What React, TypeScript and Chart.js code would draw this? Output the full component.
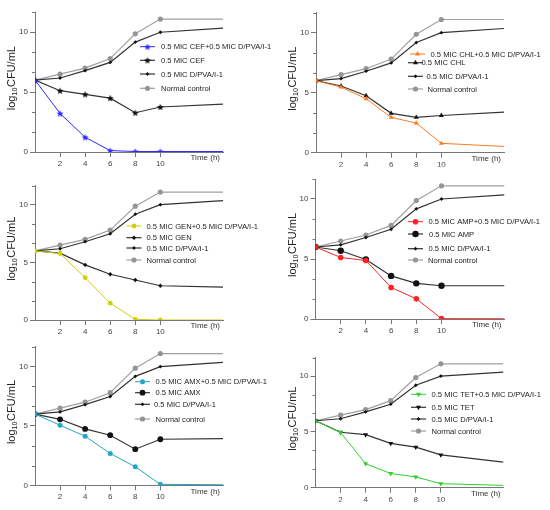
import { useEffect, useRef } from 'react';
import { Chart, registerables } from 'chart.js';
import { drawPoint } from 'chart.js/helpers';

Chart.register(...registerables);

// sampling times (h); the last one is the plateau the curves run out to
const times = [0, 2, 4, 6, 8, 10, 15];

// shared controls (same in every panel)
const normalControl = [6, 6.5, 7.0, 7.8, 9.87, 11.1, 11.1];
const dpvaOnly = [6, 6.18, 6.79, 7.48, 9.18, 10.0, 10.35];

const cefAlone = [6, 5.12, 4.82, 4.5, 3.28, 3.76, 4.0];
const cefCombo = [6, 3.22, 1.23, 0.12, 0.04, 0.04, 0.04];
const chlAlone = [6, 5.56, 4.75, 3.28, 2.94, 3.1, 3.38];
const chlCombo = [6, 5.47, 4.5, 2.94, 2.47, 0.78, 0.52];
const genAlone = [6, 5.8, 4.78, 3.97, 3.47, 2.97, 2.86];
const genCombo = [6, 5.77, 3.67, 1.46, 0.06, 0, 0];
const ampAlone = [6, 5.69, 4.96, 3.59, 2.97, 2.77, 2.77];
const ampCombo = [6, 5.13, 4.87, 2.63, 1.68, 0.03, 0.02];
const amxAlone = [6, 5.56, 4.75, 4.22, 3.04, 3.88, 3.94];
const amxCombo = [6, 5.06, 4.13, 2.68, 1.56, 0.08, 0.05];
const tetAlone = [6, 4.97, 4.76, 3.97, 3.64, 2.94, 2.3];
const tetCombo = [6, 4.94, 2.15, 1.27, 0.97, 0.36, 0.21];

const xTicks = [2, 4, 6, 8, 10];
const yTicks = [0, 5, 10];
const yMax = 35 / 3;

const FONT = 'Arial, "Liberation Sans", sans-serif';
const W = 275;
const H = 170;
const Y_W = 30;
const X_H = 14;

type Marker = { style: string; radius: number; rotation?: number };

interface PanelSpec {
  drug: string;
  alone: number[];
  combo: number[];
  comboColor: string;
  aloneMarker: Marker;
  comboMarker: Marker;
  left: number;
  top: number;
  area: { l: number; r: number; t: number; b: number };
  legend: { y: number; sx: number; tx: number }[];
}

const panels: PanelSpec[] = [
  {
    drug: 'CEF', alone: cefAlone, combo: cefCombo, comboColor: '#2a2aff',
    aloneMarker: { style: 'star5', radius: 3.6 }, comboMarker: { style: 'star5', radius: 3.6 },
    left: 0, top: 0, area: { l: 35, r: 223, t: 12.3, b: 152 },
    legend: [
      { y: 46.7, sx: 140, tx: 161 }, { y: 60.3, sx: 140, tx: 161 },
      { y: 74, sx: 140, tx: 161 }, { y: 88.3, sx: 140, tx: 161 },
    ],
  },
  {
    drug: 'CHL', alone: chlAlone, combo: chlCombo, comboColor: '#ff7a1f',
    aloneMarker: { style: 'triangle', radius: 2.9 }, comboMarker: { style: 'triangle', radius: 2.9 },
    left: 275, top: 0, area: { l: 41, r: 229, t: 12.7, b: 152.7 },
    legend: [
      { y: 54, sx: 135, tx: 155.5 }, { y: 62.7, sx: 133, tx: 146.5 },
      { y: 76.3, sx: 133, tx: 151.5 }, { y: 89, sx: 133, tx: 152.5 },
    ],
  },
  {
    drug: 'GEN', alone: genAlone, combo: genCombo, comboColor: '#cfcf10',
    aloneMarker: { style: 'rectRot', radius: 2.2 }, comboMarker: { style: 'circle', radius: 2.4 },
    left: 0, top: 170, area: { l: 35, r: 223, t: 15.5, b: 150 },
    legend: [
      { y: 56, sx: 126.5, tx: 146.5 }, { y: 67.7, sx: 126.5, tx: 146.5 },
      { y: 78, sx: 126.5, tx: 146.5 }, { y: 90, sx: 126.5, tx: 146.5 },
    ],
  },
  {
    drug: 'AMP', alone: ampAlone, combo: ampCombo, comboColor: '#ff2424',
    aloneMarker: { style: 'circle', radius: 3.2 }, comboMarker: { style: 'circle', radius: 2.8 },
    left: 275, top: 170, area: { l: 40.5, r: 229.5, t: 9, b: 149 },
    legend: [
      { y: 51.7, sx: 133, tx: 153.5 }, { y: 64, sx: 133, tx: 154 },
      { y: 78.7, sx: 133, tx: 153.5 }, { y: 90, sx: 133, tx: 153 },
    ],
  },
  {
    drug: 'AMX', alone: amxAlone, combo: amxCombo, comboColor: '#22a6c2',
    aloneMarker: { style: 'circle', radius: 2.9 }, comboMarker: { style: 'circle', radius: 2.5 },
    left: 0, top: 340, area: { l: 35, r: 223, t: 5, b: 145.3 },
    legend: [
      { y: 41.7, sx: 135, tx: 155.5 }, { y: 52.7, sx: 135, tx: 155.5 },
      { y: 64.3, sx: 135, tx: 154 }, { y: 79, sx: 135, tx: 155.5 },
    ],
  },
  {
    drug: 'TET', alone: tetAlone, combo: tetCombo, comboColor: '#2ed12e',
    aloneMarker: { style: 'triangle', radius: 2.9, rotation: 180 },
    comboMarker: { style: 'triangle', radius: 2.9, rotation: 180 },
    left: 275, top: 340, area: { l: 40.5, r: 228.5, t: 17.5, b: 147.7 },
    legend: [
      { y: 54.3, sx: 136, tx: 156.5 }, { y: 67.3, sx: 136, tx: 156.5 },
      { y: 79, sx: 136, tx: 156.5 }, { y: 91, sx: 136, tx: 156.5 },
    ],
  },
];

function starImage(color: string, r: number) {
  const size = Math.ceil(r * 2 + 2);
  const c = document.createElement('canvas');
  c.width = size;
  c.height = size;
  const g = c.getContext('2d') as CanvasRenderingContext2D;
  g.fillStyle = color;
  g.beginPath();
  for (let i = 0; i < 10; i++) {
    const rad = i % 2 === 0 ? r : r * 0.45;
    const a = -Math.PI / 2 + (i * Math.PI) / 5;
    const x = size / 2 + rad * Math.cos(a);
    const y = size / 2 + rad * Math.sin(a) + 0.4;
    if (i) g.lineTo(x, y);
    else g.moveTo(x, y);
  }
  g.closePath();
  g.fill();
  return c;
}

function makeDataset(label: string, values: number[], line: string, fill: string, m: Marker, width: number) {
  const style = m.style === 'star5' ? starImage(fill, m.radius) : m.style;
  const last = values.length - 1;
  return {
    label,
    data: times.map((t, i) => ({ x: t, y: values[i] })),
    borderColor: line,
    borderWidth: width,
    backgroundColor: fill,
    pointBackgroundColor: fill,
    pointBorderColor: fill,
    pointBorderWidth: 0,
    pointStyle: style as any,
    pointRotation: m.rotation || 0,
    pointRadius: (ctx: any) => (ctx.dataIndex === last ? 0 : m.radius),
    tension: 0,
  };
}

// y title with a real subscript: log10CFU/mL
function drawYTitle(ctx: CanvasRenderingContext2D, cx: number, cy: number) {
  const big = `11px ${FONT}`;
  const small = `7.2px ${FONT}`;
  ctx.font = big;
  const w1 = ctx.measureText('log').width;
  const w3 = ctx.measureText('CFU/mL').width;
  ctx.font = small;
  const w2 = ctx.measureText('10').width;
  const total = w1 + w2 + w3 + 0.5;
  ctx.save();
  ctx.translate(cx, cy);
  ctx.rotate(-Math.PI / 2);
  ctx.fillStyle = '#222';
  ctx.textAlign = 'left';
  ctx.textBaseline = 'alphabetic';
  let x = -total / 2;
  ctx.font = big;
  ctx.fillText('log', x, 4);
  x += w1;
  ctx.font = small;
  ctx.fillText('10', x, 6);
  x += w2 + 0.5;
  ctx.font = big;
  ctx.fillText('CFU/mL', x, 4);
  ctx.restore();
}

const decorPlugin = {
  id: 'decor',
  afterDraw(chart: any) {
    const { ctx, chartArea, scales } = chart;
    const y = scales.y;
    ctx.save();
    // minor ticks on the y axis
    ctx.strokeStyle = '#777';
    ctx.lineWidth = 1;
    for (let k = 1; k <= 7; k++) {
      if (k % 3 === 0) continue;
      const py = Math.round(y.getPixelForValue((k * 5) / 3)) + 0.5;
      ctx.beginPath();
      ctx.moveTo(chartArea.left - 3, py);
      ctx.lineTo(chartArea.left, py);
      ctx.stroke();
    }
    drawYTitle(ctx, chartArea.left - 24, (chartArea.top + chartArea.bottom) / 2 - 4);
    ctx.font = `8px ${FONT}`;
    ctx.fillStyle = '#333';
    ctx.textAlign = 'right';
    ctx.textBaseline = 'middle';
    ctx.fillText('Time (h)', chartArea.right - 3, chartArea.bottom + 6);
    // legend
    const rows = chart.options.plugins.decor.rows;
    chart.data.datasets.forEach((ds: any, i: number) => {
      const row = rows[i];
      const meta = chart.getDatasetMeta(i);
      const opts = meta.data[0].options;
      ctx.strokeStyle = ds.borderColor;
      ctx.lineWidth = ds.borderWidth;
      ctx.beginPath();
      ctx.moveTo(row.sx, row.y);
      ctx.lineTo(row.sx + 15, row.y);
      ctx.stroke();
      ctx.fillStyle = opts.backgroundColor;
      ctx.strokeStyle = opts.borderColor;
      ctx.lineWidth = 0;
      drawPoint(ctx, { pointStyle: opts.pointStyle, rotation: opts.rotation, radius: opts.radius, borderWidth: 0 }, row.sx + 7.5, row.y);
      ctx.fillStyle = '#222';
      ctx.font = `7.6px ${FONT}`;
      ctx.textAlign = 'left';
      ctx.textBaseline = 'middle';
      ctx.fillText(ds.label, row.tx, row.y + 0.5);
    });
    ctx.restore();
  },
};

function Panel({ spec }: { spec: PanelSpec }) {
  const ref = useRef<HTMLCanvasElement | null>(null);

  useEffect(() => {
    const a = spec.area;
    const chart = new Chart(ref.current as HTMLCanvasElement, {
      type: 'line',
      data: {
        datasets: [
          makeDataset(`0.5 MIC ${spec.drug}+0.5 MIC D/PVA/I-1`, spec.combo, spec.comboColor, spec.comboColor, spec.comboMarker, 1),
          makeDataset(`0.5 MIC ${spec.drug}`, spec.alone, '#333', '#111', spec.aloneMarker, 1.2),
          makeDataset('0.5 MIC D/PVA/I-1', dpvaOnly, '#333', '#111', { style: 'rectRot', radius: 1.9 }, 1.2),
          makeDataset('Normal control', normalControl, '#a0a0a0', '#959595', { style: 'circle', radius: 2.6 }, 1.2),
        ] as any,
      },
      options: {
        animation: false,
        responsive: false,
        layout: {
          autoPadding: false,
          padding: { left: a.l - Y_W, right: W - a.r, top: a.t, bottom: H - a.b - X_H },
        },
        plugins: {
          legend: { display: false },
          tooltip: { enabled: false },
          decor: { rows: spec.legend },
        } as any,
        scales: {
          x: {
            type: 'linear',
            min: 0,
            max: 15,
            afterBuildTicks: (s: any) => {
              s.ticks = xTicks.map((v) => ({ value: v }));
            },
            afterFit: (s: any) => {
              s.height = X_H;
            },
            grid: { drawOnChartArea: false, tickLength: 5, color: '#777' },
            border: { color: '#777', width: 1 },
            ticks: { padding: 2, color: '#444', font: { size: 8, family: FONT } },
          },
          y: {
            type: 'linear',
            min: 0,
            max: yMax,
            afterBuildTicks: (s: any) => {
              s.ticks = yTicks.map((v) => ({ value: v }));
            },
            afterFit: (s: any) => {
              s.width = Y_W;
            },
            grid: { drawOnChartArea: false, tickLength: 5, color: '#777' },
            border: { color: '#777', width: 1 },
            ticks: { padding: 2, color: '#444', font: { size: 8, family: FONT } },
          },
        },
      },
      plugins: [decorPlugin],
    });
    return () => chart.destroy();
  }, [spec]);

  return (
    <canvas
      ref={ref}
      width={W}
      height={H}
      style={{ position: 'absolute', left: spec.left, top: spec.top, width: W, height: H }}
    />
  );
}

export default function App() {
  return (
    <div style={{ position: 'fixed', left: 0, top: 0, width: 550, height: 510, background: '#fff' }}>
      {panels.map((p) => (
        <Panel key={p.drug} spec={p} />
      ))}
    </div>
  );
}
